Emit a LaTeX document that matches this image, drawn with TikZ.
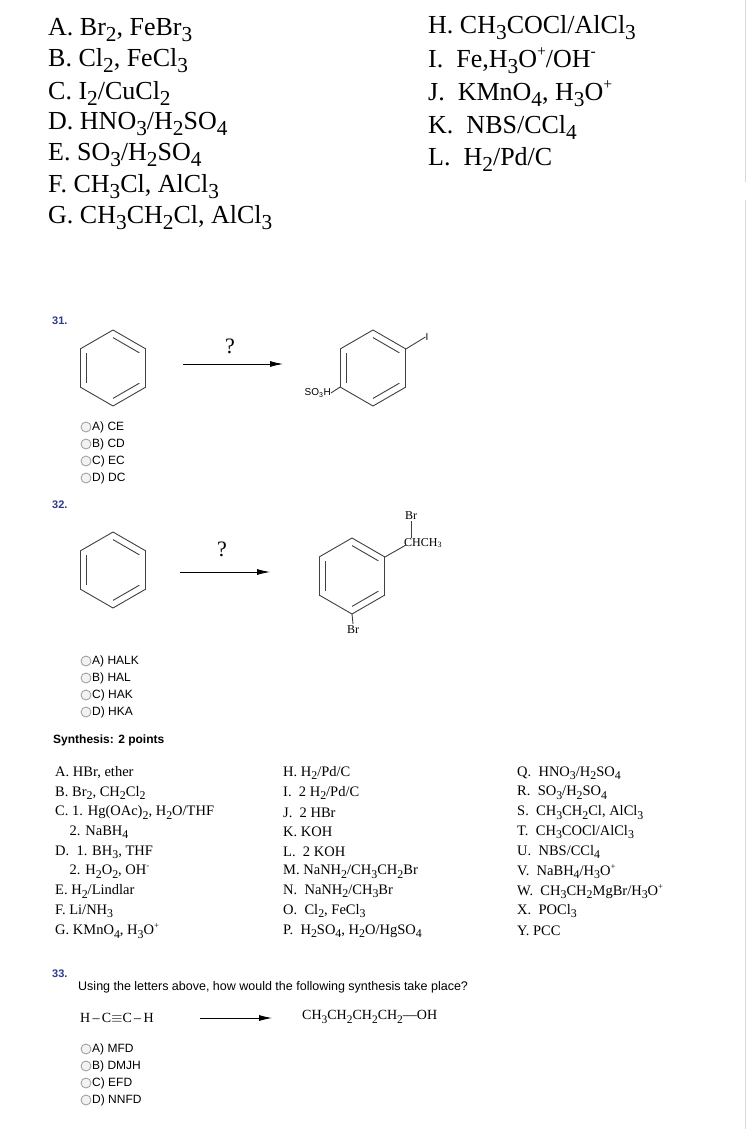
\documentclass[tikz,border=0pt]{standalone}
\usepackage{fontspec}
\setmainfont{Liberation Serif}
\setsansfont{Liberation Sans}
\usetikzlibrary{calc,arrows.meta}
\newcommand\ls[1]{\raisebox{-0.5ex}{\scalebox{0.82}{#1}}}
\newcommand\spp[1]{\raisebox{0.9ex}{\scalebox{0.6}{#1}}}
\definecolor{qblue}{RGB}{45,60,140}
\tikzset{
  big/.style={anchor=west,inner sep=0pt,font=\fontsize{26}{28}\selectfont},
  syn/.style={anchor=west,inner sep=0pt,font=\fontsize{14.5}{16}\selectfont},
  opt/.style={anchor=west,inner sep=0pt,font=\sffamily\fontsize{12}{13}\selectfont},
  qnum/.style={anchor=west,inner sep=0pt,text=qblue,font=\sffamily\bfseries\fontsize{11}{12}\selectfont},
  radio/.style={draw=gray!80,fill=gray!10,circle,minimum size=10pt,inner sep=0pt,line width=0.8pt},
  bond/.style={draw=black!75,line width=0.9pt},
  rxn/.style={draw=black,line width=0.8pt,-{Latex[length=13pt,width=6pt]}},
  qmark/.style={inner sep=0pt,font=\fontsize{22}{24}\selectfont},
  lab/.style={inner sep=1pt,font=\fontsize{12}{13}\selectfont},
  benz/.pic={
    \foreach \a in {90,150,...,390}{\draw[bond] (\a:38) -- (\a+60:38);}
    \foreach \a in {150,30,270}{\draw[bond] ($(0,0)!0.8!(\a:38)$) -- ($(0,0)!0.8!(\a+60:38)$);}
  }
}
\begin{document}
\begin{tikzpicture}[x=1pt,y=-1pt]
\useasboundingbox (0,0) rectangle (748,1129);
\fill[white] (0,0) rectangle (748,1129);
\draw[gray!30,line width=1pt] (745,0) -- (745,182) (745,200) -- (745,1129);
% top reagents
\node[big] (A) at (48,30) {A. Br\ls{2}, FeBr\ls{3}};
\node[big] (B) at (48,61) {B. Cl\ls{2}, FeCl\ls{3}};
\node[big] (C) at (48,93) {C. I\ls{2}/CuCl\ls{2}};
\node[big] (D) at (48,124) {D. HNO\ls{3}/H\ls{2}SO\ls{4}};
\node[big] (E) at (48,155) {E. SO\ls{3}/H\ls{2}SO\ls{4}};
\node[big] (F) at (48,187) {F. CH\ls{3}Cl, AlCl\ls{3}};
\node[big] (G) at (48,218) {G. CH\ls{3}CH\ls{2}Cl, AlCl\ls{3}};
\node[big] (H) at (428,28) {H. CH\ls{3}COCl/AlCl\ls{3}};
\node[big] (I) at (428,61) {I.\ \ Fe,H\ls{3}O\spp{+}/OH\spp{-}};
\node[big] (J) at (428,94) {J.\ \ KMnO\ls{4}, H\ls{3}O\spp{+}};
\node[big] (K) at (428,127) {K.\ \ NBS/CCl\ls{4}};
\node[big] (L) at (428,159) {L.\ \ H\ls{2}/Pd/C};
% question 31
\node[qnum] (q31) at (52,321) {31.};
\pic at (113,368) {benz};
\coordinate (a1s) at (183,364); \coordinate (a1e) at (283,364);
\draw[rxn] (a1s) -- (a1e);
\node[qmark] (qm1) at (230,346) {?};
\pic at (373,368) {benz};
\coordinate (p1i) at ($(373,368)+(-30:38)$);
\node[inner sep=0pt,font=\sffamily\fontsize{10}{11}\selectfont] (iod) at (427,337) {I};
\draw[bond] (p1i) -- (iod.west);
\coordinate (p1s) at ($(373,368)+(150:38)$);
\node[inner sep=0pt,anchor=east,font=\sffamily\fontsize{10}{11}\selectfont] (so3h) at (331,393) {SO\textsubscript{3}H};
\draw[bond] (p1s) -- (so3h.east);
\foreach \y/\t [count=\i] in {427/A) CE,444/B) CD,461/C) EC,478/D) DC}{
  \node[radio] (r31\i) at (86,\y) {};
  \node[opt] (o31\i) at (92,\y) {\t};
}
% question 32
\node[qnum] (q32) at (52,505) {32.};
\pic at (113,570) {benz};
\coordinate (a2s) at (180,572); \coordinate (a2e) at (270,572);
\draw[rxn] (a2s) -- (a2e);
\node[qmark] (qm2) at (222,549) {?};
\pic at (352,576) {benz};
\coordinate (p2a) at ($(352,576)+(-30:38)$);
\node[lab,anchor=west] (chch3) at (403,543) {CHCH\textsubscript{3}};
\node[lab] (br1) at (411,516) {Br};
\draw[bond] (p2a) -- ($(chch3.west)+(3,2)$);
\draw[bond] ($(chch3.north west)+(8,1)$) -- (br1.south);
\coordinate (p2b) at ($(352,576)+(90:38)$);
\node[lab,anchor=north] (br2) at (353,624) {Br};
\draw[bond] (p2b) -- (br2.north);
\foreach \y/\t [count=\i] in {661/A) HALK,678/B) HAL,695/C) HAK,712/D) HKA}{
  \node[radio] (r32\i) at (86,\y) {};
  \node[opt] (o32\i) at (92,\y) {\t};
}
\node[anchor=west,inner sep=0pt,font=\sffamily\bfseries\fontsize{12}{13}\selectfont] (synth) at (53,740) {Synthesis: 2 points};
% synthesis reagents
\foreach \t [count=\i] in {{A. HBr, ether},{B. Br\ls{2}, CH\ls{2}Cl\ls{2}},{C. 1. Hg(OAc)\ls{2}, H\ls{2}O/THF},{\ \ \ \ 2. NaBH\ls{4}},{D.\ \ 1. BH\ls{3}, THF},{\ \ \ \ 2. H\ls{2}O\ls{2}, OH\spp{-}},{E. H\ls{2}/Lindlar},{F. Li/NH\ls{3}},{G. KMnO\ls{4}, H\ls{3}O\spp{+}}}{
  \node[syn] (sa\i) at (55,{773+(\i-1)*19.75}) {\t};
}
\foreach \t [count=\i] in {{H. H\ls{2}/Pd/C},{I.\ \ 2 H\ls{2}/Pd/C},{J.\ \ 2 HBr},{K. KOH},{L.\ \ 2 KOH},{M. NaNH\ls{2}/CH\ls{3}CH\ls{2}Br},{N.\ \ NaNH\ls{2}/CH\ls{3}Br},{O.\ \ Cl\ls{2}, FeCl\ls{3}},{P.\ \ H\ls{2}SO\ls{4}, H\ls{2}O/HgSO\ls{4}}}{
  \node[syn] (sb\i) at (283,{773+(\i-1)*19.75}) {\t};
}
\foreach \t [count=\i] in {{Q.\ \ HNO\ls{3}/H\ls{2}SO\ls{4}},{R.\ \ SO\ls{3}/H\ls{2}SO\ls{4}},{S.\ \ CH\ls{3}CH\ls{2}Cl, AlCl\ls{3}},{T.\ \ CH\ls{3}COCl/AlCl\ls{3}},{U.\ \ NBS/CCl\ls{4}},{V.\ \ NaBH\ls{4}/H\ls{3}O\spp{+}},{W.\ \ CH\ls{3}CH\ls{2}MgBr/H\ls{3}O\spp{+}},{X.\ \ POCl\ls{3}},{Y. PCC}}{
  \node[syn] (sc\i) at (517,{773+(\i-1)*19.75}) {\t};
}
% question 33
\node[qnum] (q33) at (52,974) {33.};
\node[anchor=west,inner sep=0pt,font=\sffamily\fontsize{12.5}{14}\selectfont] (qtext) at (78,987) {Using the letters above, how would the following synthesis take place?};
\node[anchor=west,inner sep=0pt,font=\fontsize{14}{16}\selectfont] (alk) at (80,1018) {H\,--\,C$\equiv$C\,--\,H};
\coordinate (a3s) at (200,1018); \coordinate (a3e) at (272,1018);
\draw[rxn] (a3s) -- (a3e);
\node[anchor=west,inner sep=0pt,font=\fontsize{14}{16}\selectfont] (prod3) at (302,1017) {CH\ls{3}CH\ls{2}CH\ls{2}CH\ls{2}---OH};
\foreach \y/\t [count=\i] in {1049/A) MFD,1066/B) DMJH,1083/C) EFD,1100/D) NNFD}{
  \node[radio] (r33\i) at (86,\y) {};
  \node[opt] (o33\i) at (92,\y) {\t};
}
\end{tikzpicture}
\end{document}
